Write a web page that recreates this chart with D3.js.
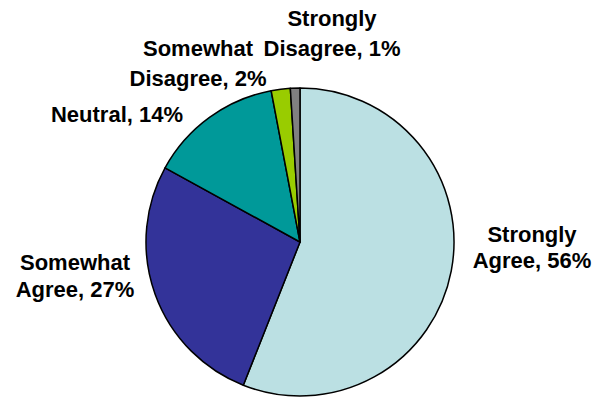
<!DOCTYPE html>
<html>
<head>
<meta charset="utf-8">
<script src="https://cdn.jsdelivr.net/npm/d3@7"></script>
<style>
  html, body { margin: 0; padding: 0; background: #fff; }
  svg { display: block; }
  text { font-family: "Liberation Sans", Arial, sans-serif; font-weight: bold; font-size: 22px; fill: #000; }
</style>
</head>
<body>
<svg id="chart" width="595" height="397"></svg>
<script>
// Survey responses, in drawing order (clockwise from 12 o'clock)
const categories = ["Strongly Agree", "Somewhat Agree", "Neutral", "Somewhat Disagree", "Strongly Disagree"];
const values = [56, 27, 14, 2, 1];
const colors = ["#BBE0E3", "#333399", "#009999", "#99CC00", "#808080"];
// Label text lines per slice
const labelLines = [
  ["Strongly", "Agree, 56%"],
  ["Somewhat", "Agree, 27%"],
  ["Neutral, 14%"],
  ["Somewhat", "Disagree, 2%"],
  ["Strongly", "Disagree, 1%"]
];

// Layout
const W = 595, H = 397;
const cx = 300, cy = 242, R = 154;
// Label anchors: centre x, first baseline y, line gap
const labelLayout = [
  { x: 532, y: 242, gap: 26 },
  { x: 75,  y: 270, gap: 27 },
  { x: 117, y: 122, gap: 27 },
  { x: 198, y: 56,  gap: 30 },
  { x: 332, y: 26,  gap: 30 }
];

const svg = d3.select("#chart");
const data = categories.map((c, i) => ({ category: c, value: values[i], color: colors[i], lines: labelLines[i] }));

const pie = d3.pie().value(d => d.value).sort(null).startAngle(0).endAngle(2 * Math.PI);
const arc = d3.arc().innerRadius(0).outerRadius(R);

const g = svg.append("g").attr("transform", `translate(${cx},${cy})`);
g.selectAll("path.slice")
  .data(pie(data))
  .join("path")
  .attr("class", "slice")
  .attr("d", arc)
  .attr("fill", d => d.data.color)
  .attr("stroke", "#000")
  .attr("stroke-width", 1.5)
  .attr("stroke-linejoin", "round");

const labels = svg.selectAll("text.lbl")
  .data(data)
  .join("text")
  .attr("class", "lbl")
  .attr("text-anchor", "middle")
  .attr("x", (d, i) => labelLayout[i].x)
  .attr("y", (d, i) => labelLayout[i].y);

labels.selectAll("tspan")
  .data((d, i) => d.lines.map((t, k) => ({ t, k, L: labelLayout[i] })))
  .join("tspan")
  .attr("x", d => d.L.x)
  .attr("y", d => d.L.y + d.k * d.L.gap)
  .text(d => d.t);
</script>
</body>
</html>
